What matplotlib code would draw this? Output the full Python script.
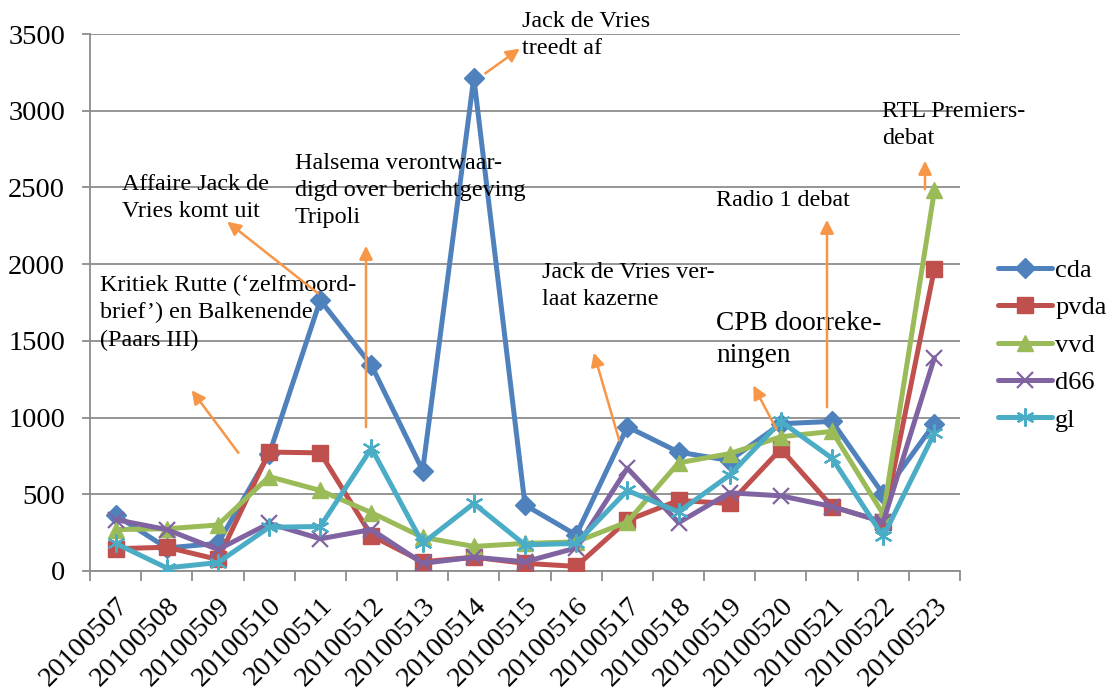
import matplotlib
matplotlib.use("Agg")
import matplotlib.pyplot as plt
from matplotlib.lines import Line2D

dates = ["20100507", "20100508", "20100509", "20100510", "20100511", "20100512",
         "20100513", "20100514", "20100515", "20100516", "20100517", "20100518",
         "20100519", "20100520", "20100521", "20100522", "20100523"]
cda  = [365, 150, 180, 760, 1765, 1340, 655, 3215, 430, 235, 940, 775, 720, 960, 975, 500, 960]
pvda = [145, 155, 75, 775, 770, 230, 60, 90, 50, 30, 330, 460, 440, 795, 420, 320, 1970]
vvd  = [270, 275, 300, 615, 525, 380, 220, 160, 180, 190, 320, 705, 765, 875, 910, 370, 2480]
d66  = [335, 270, 140, 310, 210, 270, 50, 90, 60, 150, 670, 315, 510, 490, 420, 320, 1390]
gl   = [180, 20, 55, 285, 290, 800, 180, 440, 170, 180, 525, 385, 625, 975, 735, 225, 900]

series = [("cda", cda, "#4F81BD", "D", 10),
          ("pvda", pvda, "#C0504D", "s", 11),
          ("vvd", vvd, "#9BBB59", "^", 11),
          ("d66", d66, "#8064A2", "x", 11),
          ("gl", gl, "#4BACC6", (6, 2, 0), 13)]

W, H = 1112, 696
fig = plt.figure(figsize=(W / 100, H / 100), dpi=100)
L, R, T, B = 90, 960, 34, 571
ax = fig.add_axes([L / W, 1 - B / H, (R - L) / W, (B - T) / H])

serif = ["Liberation Serif", "DejaVu Serif"]
x = list(range(len(dates)))
for name, vals, col, mk, ms in series:
    kw = {}
    if mk in ("x", (6, 2, 0)):
        kw = dict(markeredgewidth=1.6, markeredgecolor=col)
    ax.plot(x, vals, color=col, lw=3.6, marker=mk, markersize=ms, label=name,
            solid_joinstyle="round", solid_capstyle="round", zorder=3, **kw)

ax.set_xlim(-0.5, len(dates) - 0.5)
ax.set_ylim(0, 3500)
ax.set_yticks(range(0, 3501, 500))
ax.yaxis.grid(True, color="#8c8c8c", lw=1.3)
ax.set_axisbelow(True)
for s in ["top", "right"]:
    ax.spines[s].set_visible(False)
for s in ["left", "bottom"]:
    ax.spines[s].set_color("#8c8c8c")
    ax.spines[s].set_linewidth(1.3)
ax.set_xticks([i - 0.5 for i in range(len(dates) + 1)])
ax.set_xticklabels([])
ax.set_xticks(x, minor=True)
ax.set_xticklabels(dates, minor=True, rotation=45, ha="right",
                   rotation_mode="anchor", fontsize=20.5, family=serif)
ax.tick_params(axis="x", which="minor", length=0, pad=16)
ax.tick_params(axis="x", which="major", length=7, color="#8c8c8c", width=1.3)
ax.tick_params(axis="y", length=6, color="#8c8c8c", width=1.3, labelsize=20.5, pad=12)
for lab in ax.get_yticklabels():
    lab.set_family(serif)

def fx(px):
    return px / W

def fy(py):
    return 1 - py / H

texts = [
    (522, 11, "Jack de Vries\ntreedt af", 17.4),
    (882, 101, "RTL Premiers-\ndebat", 17.4),
    (122, 174, "Affaire Jack de\nVries komt uit", 17.4),
    (295, 153, "Halsema verontwaar-\ndigd over berichtgeving\nTripoli", 17.4),
    (716, 190, "Radio 1 debat", 17.4),
    (100, 275, "Kritiek Rutte (\u2018zelfmoord-\nbrief\u2019) en Balkenende\n(Paars III)", 17.4),
    (542, 262, "Jack de Vries ver-\nlaat kazerne", 17.4),
    (716, 311, "CPB doorreke-\nningen", 19.7),
]
for px, py, t, fs in texts:
    fig.text(fx(px), fy(py), t, ha="left", va="top", fontsize=fs, family=serif,
             linespacing=1.38, zorder=5)

arrows = [
    ((240, 455), (190, 388)),
    ((320, 295), (225, 220)),
    ((366, 430), (366, 243)),
    ((483, 75), (522, 47)),
    ((620, 443), (593, 350)),
    ((778, 432), (752, 383)),
    ((827, 410), (827, 217)),
    ((925, 192), (925, 158)),
]
orange = "#F79646"
for (x0, y0), (x1, y1) in arrows:
    fig.add_artist(matplotlib.patches.FancyArrowPatch(
        (fx(x0), fy(y0)), (fx(x1), fy(y1)), transform=fig.transFigure,
        arrowstyle="-|>", mutation_scale=20, color=orange, lw=1.8, zorder=6))

handles = [Line2D([], [], color=c, lw=3.6, marker=m, markersize=ms,
                  markeredgewidth=1.6 if m in ("x", (6, 2, 0)) else 1.0,
                  markeredgecolor=c, solid_capstyle="round")
           for _, _, c, m, ms in series]
fig.legend(handles, [s[0] for s in series], loc="center left",
           bbox_to_anchor=(fx(998), fy(345)), frameon=False,
           prop={"family": serif, "size": 19}, handlelength=2.05,
           labelspacing=0.53, handletextpad=0.12, borderpad=0.0,
           borderaxespad=0.0)

fig.savefig("out.png", dpi=100)
